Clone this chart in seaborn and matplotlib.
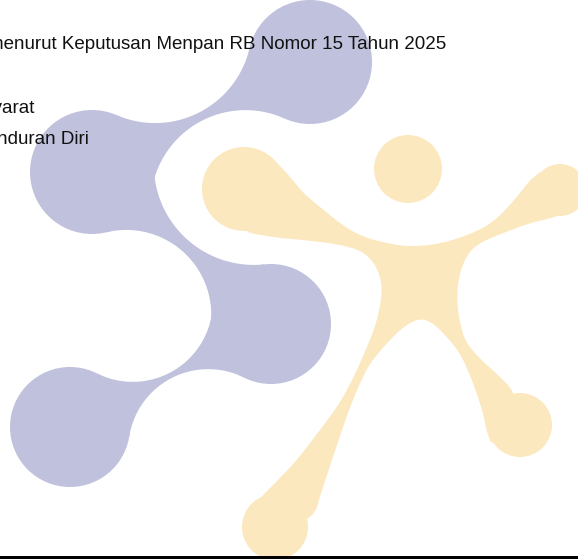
import numpy as np
import matplotlib
matplotlib.use("Agg")
import matplotlib.pyplot as plt
from matplotlib.patches import Circle, Polygon, Rectangle
import seaborn as sns

# Teks yang terlihat (terpotong di kiri, seperti pada gambar asli)
teks = ["menurut Keputusan Menpan RB Nomor 15 Tahun 2025", "Syarat", "Pengunduran Diri"]
teks_x = [-12, -20, -57]
teks_y = [49, 113, 144]

# Logo ungu: lingkaran berurutan (x, y, r) dalam piksel
ungu_x = [310, 92, 271, 70]
ungu_y = [62, 172, 324, 427]
ungu_r = [62, 62, 60, 60]

# Jari-jari lengkung cekung pada tiap leher (sisi kiri/atas dan sisi kanan/bawah)
leher_a = [97, 85, 80]
leher_b = [95, 100, 80]

# Figur kuning: kepala, tangan dan kaki
kepala = (408, 169, 34)
ujung_x = [244, 560, 520, 275]
ujung_y = [189, 190, 425, 527]
ujung_r = [42, 26, 32, 33]

badan_x = [271, 287, 303, 320, 337, 353, 370, 387, 403, 420, 437, 453, 470, 487, 503, 520,
           530, 545, 560, 567, 548, 530, 503, 477, 465, 458, 457, 460, 465, 478, 497, 515,
           520, 493, 487, 483, 478, 470, 460, 447, 433, 420, 403, 387, 370, 360, 350, 342,
           332, 322, 313, 275, 250, 262, 280, 297, 320, 337, 347, 357, 367, 375, 380, 382,
           379, 372, 360, 337, 303, 270, 237, 244]
badan_y = [157, 173, 193, 207, 221, 232, 239, 243, 246, 246, 244, 240, 234, 226, 213, 193,
           180, 168, 190, 213, 219, 223, 233, 244, 258, 280, 303, 323, 341, 357, 374, 392,
           425, 447, 433, 413, 397, 375, 353, 337, 323, 318, 327, 343, 363, 383, 407, 430,
           460, 490, 520, 527, 510, 496, 478, 460, 430, 407, 390, 370, 347, 327, 307, 287,
           273, 260, 250, 244, 240, 237, 230, 189]

UNGU = "#C0C1DC"
KUNING = "#FCE8BF"


def pusat_lengkung(c1, r1, c2, r2, R, sisi):
    # pusat lingkaran yang menyinggung c1 dan c2 dari luar
    d = np.linalg.norm(c2 - c1)
    u = (c2 - c1) / d
    n = np.array([-u[1], u[0]]) * sisi
    ra, rb = r1 + R, r2 + R
    a = (d ** 2 + ra ** 2 - rb ** 2) / (2 * d)
    h = np.sqrt(ra ** 2 - a ** 2)
    return c1 + a * u + h * n


def busur(P, R, c1, r1, c2, r2, n=40):
    t1 = c1 + r1 * (P - c1) / np.linalg.norm(P - c1)
    t2 = c2 + r2 * (P - c2) / np.linalg.norm(P - c2)
    f1 = np.arctan2(t1[1] - P[1], t1[0] - P[0])
    f2 = np.arctan2(t2[1] - P[1], t2[0] - P[0])
    df = (f2 - f1 + np.pi) % (2 * np.pi) - np.pi
    f = f1 + df * np.linspace(0, 1, n)
    return np.column_stack([P[0] + R * np.cos(f), P[1] + R * np.sin(f)])


def leher(c1, r1, c2, r2, Ra, Rb):
    Pa = pusat_lengkung(c1, r1, c2, r2, Ra, 1)
    Pb = pusat_lengkung(c1, r1, c2, r2, Rb, -1)
    return np.vstack([busur(Pa, Ra, c1, r1, c2, r2), busur(Pb, Rb, c1, r1, c2, r2)[::-1]])


def chaikin(x, y, n=2):
    p = np.column_stack([x, y]).astype(float)
    for _ in range(n):
        q = np.roll(p, -1, axis=0)
        a = 0.75 * p + 0.25 * q
        b = 0.25 * p + 0.75 * q
        p = np.empty((2 * len(a), 2))
        p[0::2] = a
        p[1::2] = b
    return p


sns.set_theme(style="white")
plt.rcParams["font.family"] = ["Liberation Sans", "DejaVu Sans"]

fig = plt.figure(figsize=(5.78, 5.59), dpi=100)
ax = fig.add_axes([0, 0, 1, 1])
ax.set_xlim(0, 578)
ax.set_ylim(559, 0)
ax.axis("off")

# logo ungu
for i in range(len(ungu_x) - 1):
    c1 = np.array([ungu_x[i], ungu_y[i]], float)
    c2 = np.array([ungu_x[i + 1], ungu_y[i + 1]], float)
    pts = leher(c1, ungu_r[i], c2, ungu_r[i + 1], leher_a[i], leher_b[i])
    ax.add_patch(Polygon(pts, closed=True, fc=UNGU, ec="none", zorder=1))
for x, y, r in zip(ungu_x, ungu_y, ungu_r):
    ax.add_patch(Circle((x, y), r, fc=UNGU, ec="none", zorder=1))

# figur kuning
ax.add_patch(Polygon(chaikin(badan_x, badan_y), closed=True, fc=KUNING, ec="none", zorder=2))
ax.add_patch(Circle(kepala[:2], kepala[2], fc=KUNING, ec="none", zorder=2))
for x, y, r in zip(ujung_x, ujung_y, ujung_r):
    ax.add_patch(Circle((x, y), r, fc=KUNING, ec="none", zorder=2))

for s, x, y in zip(teks, teks_x, teks_y):
    ax.text(x, y, s, fontsize=13.5, color="#111111", va="baseline", ha="left", zorder=3)

ax.add_patch(Rectangle((0, 556), 578, 4, fc="black", ec="none", zorder=4))

fig.savefig("out.png", dpi=100)
